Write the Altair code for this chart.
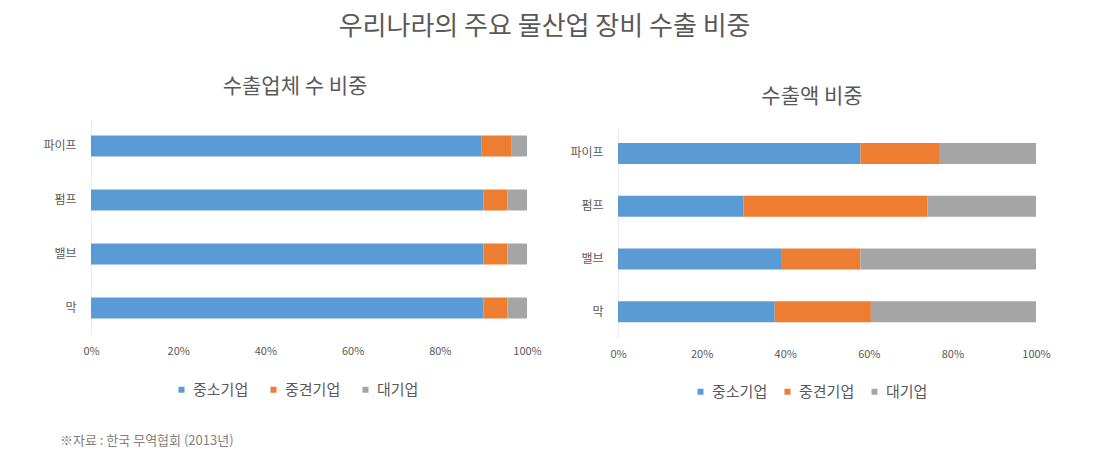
import altair as alt
import pandas as pd

categories = ["파이프", "펌프", "밸브", "막"]
series = ["중소기업", "중견기업", "대기업"]
colors = ["#5B9BD5", "#ED7D31", "#A5A5A5"]

# 수출업체 수 비중 (%)
left_small = [89.5, 90, 90, 90]
left_mid = [7, 5.5, 5.5, 5.5]
left_large = [3.5, 4.5, 4.5, 4.5]

# 수출액 비중 (%)
right_small = [58, 30, 39, 37.5]
right_mid = [19, 44, 19, 23]
right_large = [23, 26, 42, 39.5]

title_main = "우리나라의 주요 물산업 장비 수출 비중"
title_left = "수출업체 수 비중"
title_right = "수출액 비중"
footnote = "※자료 : 한국 무역협회 (2013년)"

FONT = "Noto Sans CJK KR"
GRAY = "#595959"


def make_df(vals):
    rows = []
    for s_i, (s, arr) in enumerate(zip(series, vals)):
        for c, v in zip(categories, arr):
            rows.append({"cat": c, "series": s, "order": s_i, "value": v / 100})
    return pd.DataFrame(rows)


def panel(df, title, width, height, yrange, title_offset, title_dx, legend_x, legend_y,
          col_pad, with_foot=False):
    bars = alt.Chart(df).mark_bar(size=21).encode(
        y=alt.Y("cat:N", sort=categories, title=None,
                scale=alt.Scale(paddingInner=0.6, paddingOuter=0.3, range=yrange),
                axis=alt.Axis(labelFontSize=12, labelColor=GRAY, ticks=False,
                              domainColor="#EDEDED", labelPadding=15, labelFont=FONT)),
        x=alt.X("value:Q", stack="zero", title=None,
                scale=alt.Scale(domain=[0, 1], nice=False),
                axis=alt.Axis(format="%", values=[0, 0.2, 0.4, 0.6, 0.8, 1.0],
                              grid=False, domain=False, ticks=False, labelFlush=False,
                              labelFontSize=11, labelColor=GRAY, labelPadding=10,
                              labelFont=FONT)),
        color=alt.Color("series:N", sort=series,
                        scale=alt.Scale(domain=series, range=colors),
                        legend=alt.Legend(orient="none", legendX=legend_x, legendY=legend_y,
                                          direction="horizontal",
                                          title=None, symbolType="square",
                                          symbolSize=36, labelFontSize=15,
                                          labelOffset=4,
                                          labelColor=GRAY, labelFont=FONT,
                                          columnPadding=col_pad)),
        order=alt.Order("order:Q"),
    )
    layers = [bars]
    if with_foot:
        fdf = pd.DataFrame({"t": [footnote]})
        foot = alt.Chart(fdf).mark_text(align="left", baseline="middle", fontSize=13,
                                        color="#7F7F7F", font=FONT).encode(
            text="t:N", x=alt.value(-31), y=alt.value(322))
        layers.append(foot)
    return alt.layer(*layers).properties(
        width=width, height=height,
        title=alt.TitleParams(title, fontSize=21, color=GRAY, font=FONT,
                              fontWeight="normal", offset=title_offset, dx=title_dx))


left = panel(make_df([left_small, left_mid, left_large]), title_left, 436, 216,
             [0, 216], 22, -14, 83, 263, 17, True)
right = panel(make_df([right_small, right_mid, right_large]), title_right, 418, 219,
              [8, 219], 12, -15, 75, 265, 12)

chart = alt.hconcat(left, right, spacing=27).resolve_scale(color="independent").properties(
    title=alt.TitleParams(title_main, fontSize=26, color=GRAY, font=FONT,
                          fontWeight="normal", anchor="middle", offset=36, dx=-2),
    padding={"left": 42, "top": 14, "right": 10, "bottom": 5},
).configure_view(stroke=None).configure_concat(spacing=27)

chart.save("out.html", embed_options={"renderer": "svg", "actions": False})
